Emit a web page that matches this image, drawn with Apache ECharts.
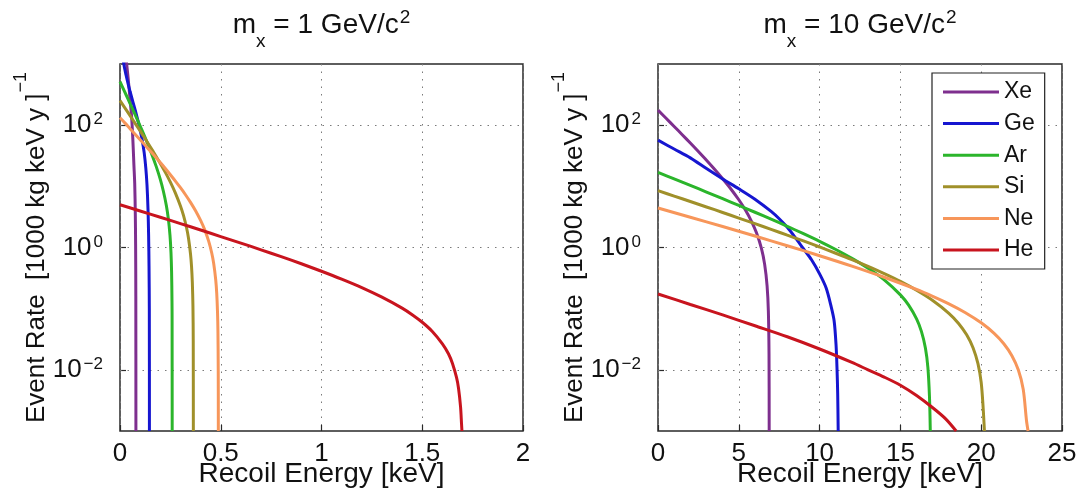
<!DOCTYPE html>
<html>
<head>
<meta charset="utf-8">
<script src="https://cdn.jsdelivr.net/npm/echarts@6/dist/echarts.min.js"></script>
<style>
  html, body { margin: 0; padding: 0; background: #ffffff; }
  #chart { width: 1088px; height: 493px; }
</style>
</head>
<body>
<div id="chart"></div>
<script>
// Target nuclei and their line colours
const targets = ['Xe', 'Ge', 'Ar', 'Si', 'Ne', 'He'];
const lineColors = ['#7e2f8e', '#1616d0', '#2bb52b', '#a0902a', '#f7965a', '#c8141e'];

// Y tick values (event rate) that get a label
const yLabelValues = [0.01, 1, 100];

// ---- m_x = 1 GeV/c^2 : recoil energy [keV] and event rate [(1000 kg keV y)^-1]
const xe1E = [0, 0.01, 0.02, 0.03, 0.04, 0.05, 0.058, 0.064, 0.069, 0.073, 0.076, 0.0775, 0.0785, 0.079];
const xe1R = [20000, 7080, 2820, 1260, 603, 263, 132, 56, 22.4, 11.2, 3.5, 1.12, 0.16, 0.001];
const ge1E = [0, 0.01, 0.02, 0.03, 0.04, 0.05, 0.06, 0.07, 0.08, 0.09, 0.1, 0.11, 0.12, 0.128, 0.134, 0.139, 0.142, 0.144, 0.1455, 0.146];
const ge1R = [2820, 1585, 955, 661, 479, 355, 269, 204, 155, 115, 83, 57.5, 35.5, 20, 10.5, 4.2, 1.58, 0.5, 0.1, 0.001];
const ar1E = [0, 0.02, 0.04, 0.06, 0.08, 0.1, 0.12, 0.14, 0.16, 0.18, 0.2, 0.215, 0.23, 0.24, 0.248, 0.253, 0.256, 0.258, 0.2585, 0.259];
const ar1R = [513, 370, 267, 191, 137, 97, 68, 47.2, 32, 21, 13, 8.4, 4.88, 2.93, 1.59, 0.83, 0.4, 0.134, 0.07, 0.001];
const si1E = [0, 0.025, 0.05, 0.075, 0.1, 0.125, 0.15, 0.175, 0.2, 0.225, 0.25, 0.275, 0.3, 0.315, 0.33, 0.34, 0.35, 0.355, 0.359, 0.362, 0.3635, 0.364];
const si1R = [251, 190, 143, 107, 80.5, 60, 44.4, 32.6, 23.7, 16.9, 11.7, 7.76, 4.77, 3.34, 2.12, 1.42, 0.78, 0.49, 0.267, 0.109, 0.03, 0.001];
const ne1E = [0, 0.025, 0.05, 0.075, 0.1, 0.125, 0.15, 0.175, 0.2, 0.225, 0.25, 0.275, 0.3, 0.325, 0.35, 0.375, 0.4, 0.42, 0.44, 0.455, 0.465, 0.475, 0.48, 0.484, 0.486, 0.4875, 0.488];
const ne1R = [132, 108, 87.6, 71.2, 57.8, 46.8, 37.9, 30.5, 24.5, 19.6, 15.5, 12.2, 9.5, 7.29, 5.47, 3.99, 2.77, 1.96, 1.27, 0.82, 0.548, 0.297, 0.179, 0.087, 0.043, 0.01, 0.001];
const he1E = [0, 0.1, 0.2, 0.3, 0.4, 0.5, 0.6, 0.7, 0.8, 0.9, 1.0, 1.1, 1.2, 1.3, 1.4, 1.45, 1.5, 1.55, 1.6, 1.63, 1.65, 1.67, 1.68, 1.69, 1.695, 1.697];
const he1R = [5.0, 3.95, 3.12, 2.46, 1.93, 1.51, 1.18, 0.917, 0.708, 0.542, 0.409, 0.304, 0.221, 0.154, 0.102, 0.0797, 0.06, 0.0424, 0.0266, 0.0183, 0.0127, 0.0075, 0.005, 0.0025, 0.0013, 0.001];

// ---- m_x = 10 GeV/c^2
const xe10E = [0, 0.5, 1, 1.5, 2, 2.5, 3, 3.5, 4, 4.5, 5, 5.4, 5.8, 6.1, 6.4, 6.6, 6.75, 6.83, 6.87, 6.88];
const xe10R = [176, 129.6, 95.3, 69.9, 51, 37, 26.7, 19, 13.3, 9.14, 6.03, 4.13, 2.63, 1.72, 0.965, 0.53, 0.237, 0.09, 0.018, 0.001];
const ge10E = [0, 1, 2, 3, 4, 5, 6, 7, 7.5, 8, 8.5, 9, 9.5, 10, 10.4, 10.7, 10.9, 11.02, 11.08, 11.12, 11.15];
const ge10R = [56.9, 40.7, 29.2, 19.5, 13.2, 9.12, 6.17, 3.89, 2.95, 2.14, 1.45, 0.955, 0.63, 0.37, 0.219, 0.112, 0.063, 0.025, 0.01, 0.004, 0.001];
const ar10E = [0, 1, 2, 3, 4, 5, 6, 7, 8, 9, 10, 11, 12, 13, 14, 15, 15.5, 16, 16.3, 16.55, 16.7, 16.8, 16.85];
const ar10R = [16.9, 13.23, 10.34, 8.07, 6.28, 4.88, 3.77, 2.9, 2.22, 1.68, 1.26, 0.926, 0.664, 0.458, 0.296, 0.168, 0.115, 0.068, 0.0425, 0.0226, 0.011, 0.0036, 0.001];
const si10E = [0, 1, 2, 3, 4, 5, 6, 7, 8, 9, 10, 11, 12, 13, 14, 15, 16, 17, 18, 18.6, 19.1, 19.5, 19.8, 20.0, 20.12, 20.2];
const si10R = [8.5, 6.93, 5.65, 4.6, 3.74, 3.03, 2.45, 1.98, 1.59, 1.28, 1.02, 0.806, 0.633, 0.49, 0.374, 0.279, 0.2, 0.136, 0.084, 0.0573, 0.0374, 0.0228, 0.0126, 0.0062, 0.0024, 0.001];
const ne10E = [0, 2, 4, 6, 8, 10, 12, 14, 16, 17, 18, 19, 20, 20.8, 21.4, 21.9, 22.3, 22.6, 22.8, 22.9];
const ne10R = [4.43, 3.13, 2.2, 1.54, 1.07, 0.734, 0.496, 0.326, 0.206, 0.159, 0.12, 0.0867, 0.0587, 0.0395, 0.0267, 0.017, 0.0099, 0.0048, 0.0015, 0.001];
const he10E = [0, 2, 4, 6, 8, 10, 12, 13, 14, 15, 16, 17, 17.8, 18.45];
const he10R = [0.174, 0.117, 0.079, 0.0525, 0.0347, 0.0219, 0.0132, 0.01, 0.0076, 0.0056, 0.0038, 0.0024, 0.00158, 0.001];

const panel1 = [[xe1E, xe1R], [ge1E, ge1R], [ar1E, ar1R], [si1E, si1R], [ne1E, ne1R], [he1E, he1R]];
const panel10 = [[xe10E, xe10R], [ge10E, ge10R], [ar10E, ar10R], [si10E, si10R], [ne10E, ne10R], [he10E, he10R]];

const FONT = '"Liberation Sans", Arial, Helvetica, sans-serif';
const INK = '#111111';
const AXIS_COLOR = '#2a2a2a';
const GRID_LINE = { color: '#7a7a7a', width: 1, type: [1.5, 6] };

function pairs(E, R) {
  return E.map((e, i) => [e, R[i]]);
}

function powerLabel(value) {
  const exp = Math.round(Math.log10(value));
  if (exp % 2 !== 0) return '';
  const s = exp < 0 ? '\u2212' + Math.abs(exp) : String(exp);
  return '{b|10}{s|' + s + '}';
}

const tickRich = {
  b: { fontSize: 26, fontFamily: FONT, color: INK, lineHeight: 28, verticalAlign: 'middle' },
  s: { fontSize: 17, fontFamily: FONT, color: INK, lineHeight: 17, verticalAlign: 'middle', padding: [0, 0, 11, 2] }
};

function makeTitle(mass, centerX) {
  return {
    text: '{m|m}{sub|x}{m| = ' + mass + ' GeV/c}{sup|2}',
    left: centerX,
    top: -1,
    padding: 0,
    textAlign: 'center',
    textStyle: {
      fontWeight: 'normal',
      rich: {
        m: { fontSize: 28, fontWeight: 'normal', fontFamily: FONT, color: INK, lineHeight: 53, verticalAlign: 'middle' },
        sub: { fontSize: 19, fontWeight: 'normal', fontFamily: FONT, color: INK, lineHeight: 19, verticalAlign: 'middle', padding: [33, 0, 0, 0] },
        sup: { fontSize: 19, fontWeight: 'normal', fontFamily: FONT, color: INK, lineHeight: 19, verticalAlign: 'middle', padding: [0, 0, 16, 1] }
      }
    }
  };
}

function makeXAxis(gridIndex, max, interval) {
  return {
    type: 'value',
    gridIndex: gridIndex,
    min: 0,
    max: max,
    interval: interval,
    axisLine: { show: false },
    axisTick: { show: true, inside: true, length: 6, lineStyle: { color: AXIS_COLOR, width: 1.2 } },
    axisLabel: { fontSize: 26, fontFamily: FONT, color: INK, margin: 10 },
    splitLine: { show: true, lineStyle: GRID_LINE },
    name: 'Recoil Energy [keV]',
    nameLocation: 'middle',
    nameGap: 29,
    nameMoveOverlap: false,
    nameTextStyle: { fontSize: 28, fontFamily: FONT, color: INK }
  };
}

function makeYAxis(gridIndex) {
  return {
    type: 'log',
    logBase: 10,
    gridIndex: gridIndex,
    min: 0.001,
    max: 1000,
    axisLine: { show: false },
    axisTick: { show: true, inside: true, length: 6, customValues: yLabelValues, lineStyle: { color: AXIS_COLOR, width: 1.2 } },
    axisLabel: { customValues: yLabelValues, formatter: powerLabel, margin: 17, rich: tickRich },
    splitLine: { show: false },
    name: '{m|Event Rate  [1000 kg keV y ]}{s|\u22121}',
    nameLocation: 'middle',
    nameGap: 59,
    nameMoveOverlap: false,
    nameTextStyle: {
      rich: {
        m: { fontSize: 26, fontFamily: FONT, color: INK, lineHeight: 49, verticalAlign: 'middle' },
        s: { fontSize: 18, fontFamily: FONT, color: INK, lineHeight: 18, verticalAlign: 'middle', padding: [0, 0, 31, 1] }
      }
    }
  };
}

// Dotted horizontal grid lines at the labelled decades
function decadeLines() {
  return {
    silent: true,
    symbol: ['none', 'none'],
    z: 1,
    label: { show: false },
    lineStyle: GRID_LINE,
    emphasis: { disabled: true },
    data: yLabelValues.map(v => ({ yAxis: v }))
  };
}

function makeSeries(panel, idx) {
  return panel.map(([E, R], i) => ({
    name: targets[i],
    type: 'line',
    xAxisIndex: idx,
    yAxisIndex: idx,
    data: pairs(E, R),
    showSymbol: false,
    symbol: 'none',
    smooth: 0.3,
    clip: true,
    lineStyle: { width: 3, color: lineColors[i] },
    itemStyle: { color: lineColors[i] },
    z: 3,
    markLine: i === 0 ? decadeLines() : undefined
  }));
}

const chart = echarts.init(document.getElementById('chart'), null, { renderer: 'canvas' });

chart.setOption({
  animation: false,
  backgroundColor: '#ffffff',
  textStyle: { fontFamily: FONT },
  title: [makeTitle('1', 321.5), makeTitle('10', 860)],
  grid: [
    { left: 120, right: 565, top: 64, bottom: 62, show: true, borderColor: AXIS_COLOR, borderWidth: 1.5, backgroundColor: 'transparent' },
    { left: 658, right: 26, top: 64, bottom: 62, show: true, borderColor: AXIS_COLOR, borderWidth: 1.5, backgroundColor: 'transparent' }
  ],
  xAxis: [makeXAxis(0, 2, 0.5), makeXAxis(1, 25, 5)],
  yAxis: [makeYAxis(0), makeYAxis(1)],
  legend: {
    orient: 'vertical',
    left: 932,
    top: 73,
    data: targets,
    icon: 'rect',
    itemWidth: 56,
    itemHeight: 3,
    itemGap: 7.6,
    selectedMode: false,
    backgroundColor: '#ffffff',
    borderColor: '#222222',
    borderWidth: 1.2,
    padding: [7, 10, 7, 11],
    textStyle: { fontSize: 23, fontFamily: FONT, color: INK, lineHeight: 24 }
  },
  series: [...makeSeries(panel1, 0), ...makeSeries(panel10, 1)]
});
</script>
</body>
</html>
